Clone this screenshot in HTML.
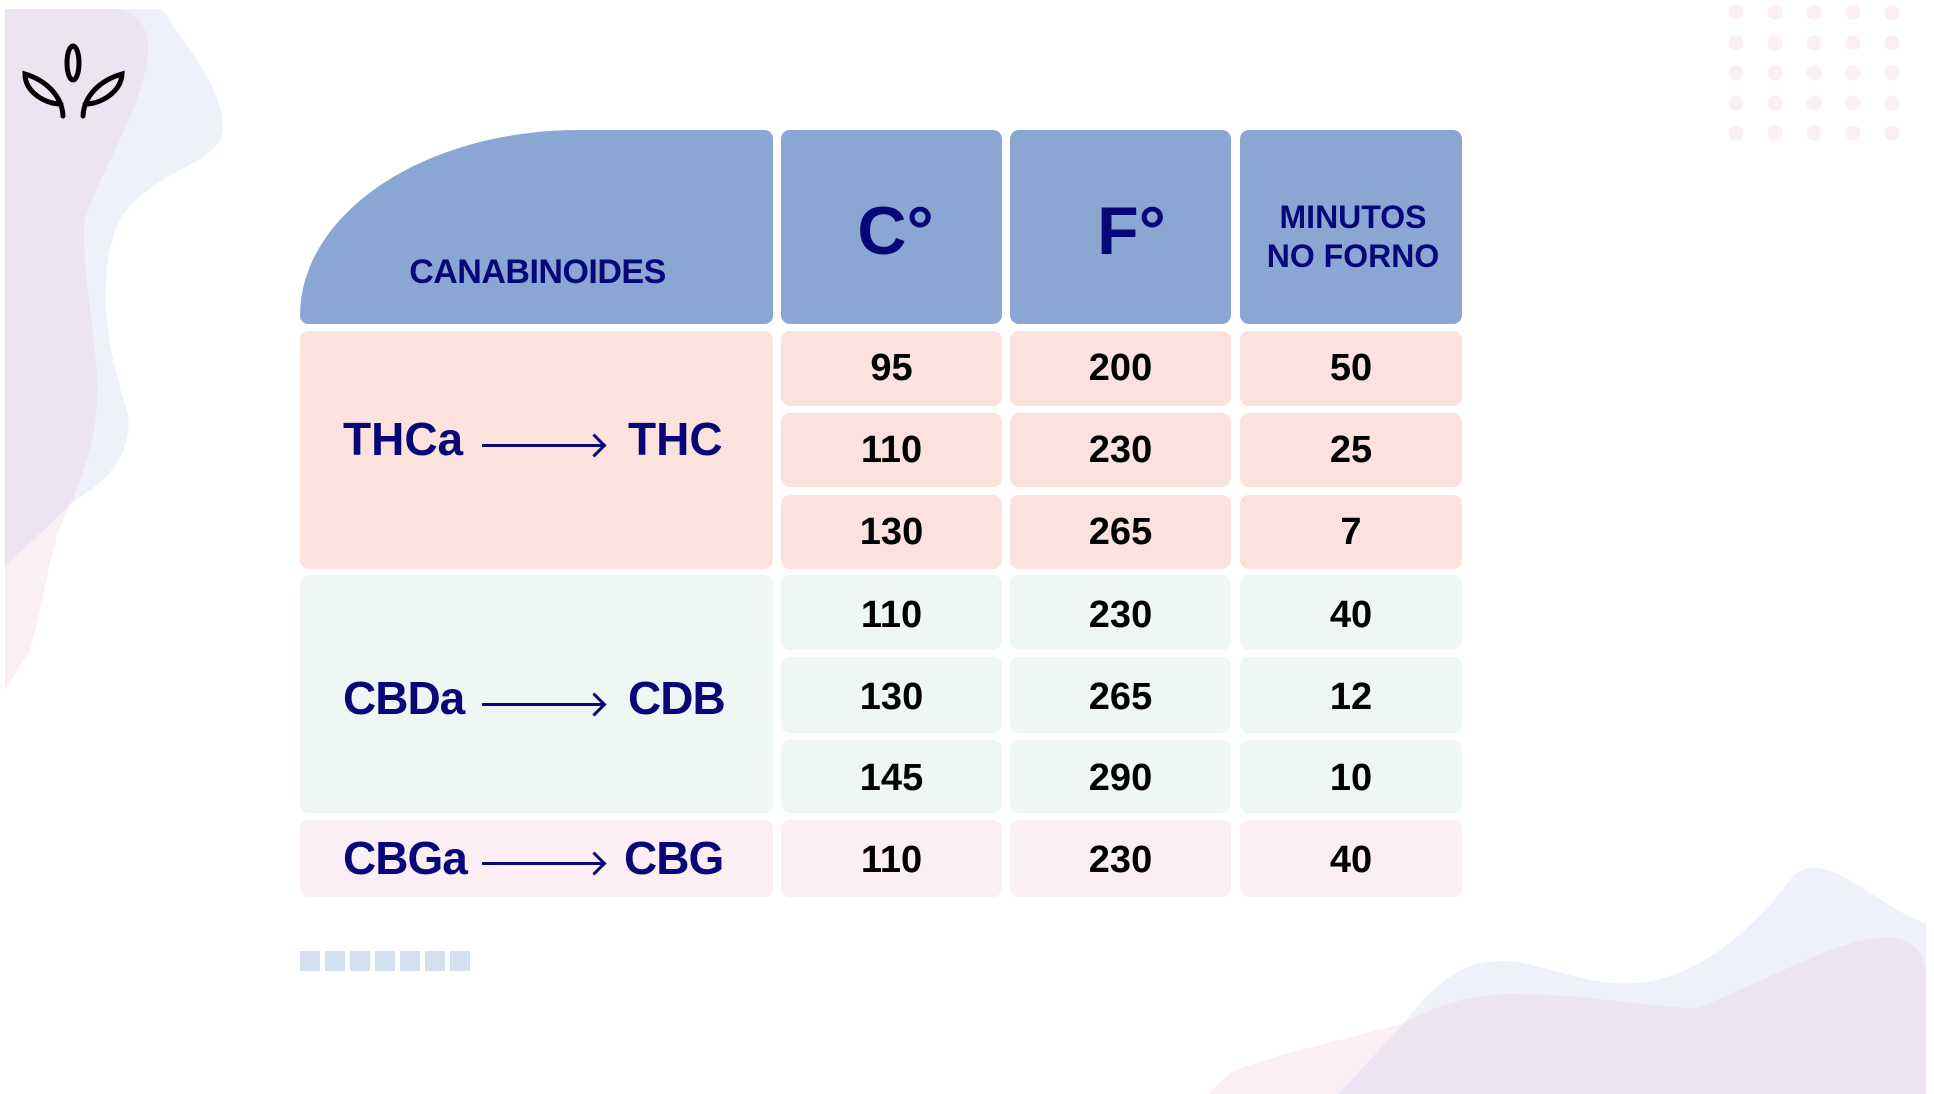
<!DOCTYPE html>
<html><head><meta charset="utf-8"><style>
html,body{margin:0;padding:0;background:#fff;}
body{width:1934px;height:1094px;position:relative;overflow:hidden;font-family:"Liberation Sans",sans-serif;}
svg.bg{position:absolute;left:0;top:0;}
.c{position:absolute;display:flex;align-items:center;justify-content:center;font-weight:bold;border-radius:9px;box-sizing:border-box;}
.h{background:#8aa7d4;color:#07077a;}
.p{background:#fbe2dc;}
.g{background:#eff7f4;}
.k{background:#fbeef4;}
.n{font-size:38px;color:#000;}
.lab{position:absolute;font-weight:bold;color:#07077a;font-size:46px;white-space:nowrap;}
.arr{position:absolute;height:3px;background:#07077a;}
.arr:after{content:"";position:absolute;width:14px;height:14px;border-top:3px solid #07077a;border-right:3px solid #07077a;transform:rotate(45deg);right:2px;top:-7px;}
</style></head><body>
<svg class="bg" width="1934" height="1094" viewBox="0 0 1934 1094">
<path d="M5,9 L162,9 C185,45 225,90 223,130 C220,165 150,170 120,220 C100,260 100,330 127,410 C135,450 110,480 75,500 L5,567 Z" fill="#eef1f9"/>
<path d="M5,9 L117,9 C150,15 155,45 140,90 C120,150 85,200 84,230 C85,300 100,360 97,400 C95,450 80,480 70,505 L5,567 Z" fill="#ece4f0"/>
<path d="M70,505 C50,540 45,600 30,650 L5,690 L5,567 Z" fill="#fbeff5"/>
<path d="M1209,1094 C1220,1080 1235,1068 1247,1066 C1290,1052 1320,1045 1340,1040 L1404,1023 L1340,1094 Z" fill="#fbeff5"/>
<path d="M1337,1094 L1404,1023 C1440,975 1470,961 1501,961 C1540,961 1580,985 1628,983 C1700,983 1760,920 1790,880 C1820,840 1880,910 1926,923 L1926,1094 Z" fill="#eef1f9"/>
<path d="M1339,1094 L1404,1023 C1440,1003 1480,993 1515,994 C1600,995 1650,1008 1697,1008 C1760,985 1840,935 1893,937 C1915,940 1926,960 1926,970 L1926,1094 Z" fill="#ece4f0"/>
<g fill="#fbeef4">
<circle cx="1736" cy="12.5" r="7.5"/><circle cx="1775" cy="12.5" r="7.5"/><circle cx="1814" cy="12.5" r="7.5"/><circle cx="1853" cy="12.5" r="7.5"/><circle cx="1892" cy="12.5" r="7.5"/>
<circle cx="1736" cy="43" r="7.5"/><circle cx="1775" cy="43" r="7.5"/><circle cx="1814" cy="43" r="7.5"/><circle cx="1853" cy="43" r="7.5"/><circle cx="1892" cy="43" r="7.5"/>
<circle cx="1736" cy="73" r="7.5"/><circle cx="1775" cy="73" r="7.5"/><circle cx="1814" cy="73" r="7.5"/><circle cx="1853" cy="73" r="7.5"/><circle cx="1892" cy="73" r="7.5"/>
<circle cx="1736" cy="103" r="7.5"/><circle cx="1775" cy="103" r="7.5"/><circle cx="1814" cy="103" r="7.5"/><circle cx="1853" cy="103" r="7.5"/><circle cx="1892" cy="103" r="7.5"/>
<circle cx="1736" cy="133" r="7.5"/><circle cx="1775" cy="133" r="7.5"/><circle cx="1814" cy="133" r="7.5"/><circle cx="1853" cy="133" r="7.5"/><circle cx="1892" cy="133" r="7.5"/>
</g>
<g fill="none" stroke="#000" stroke-width="5" stroke-linecap="round">
<ellipse cx="73" cy="63" rx="6" ry="17"/>
<path d="M63,116 C62,95 45,80 25,74 C25,92 45,104 61,104"/>
<path d="M83,116 C84,95 101,80 122,74 C121,92 101,104 85,104"/>
</g>
<g fill="#d3deee">
<rect x="300" y="951" width="20" height="20"/><rect x="325" y="951" width="20" height="20"/><rect x="350" y="951" width="20" height="20"/><rect x="375" y="951" width="20" height="20"/><rect x="400" y="951" width="20" height="20"/><rect x="425" y="951" width="20" height="20"/><rect x="450" y="951" width="20" height="20"/>
</g>
</svg>

<div class="c h" style="left:300px;top:130px;width:473px;height:194px;border-radius:300px 9px 9px 9px / 200px 9px 9px 9px;align-items:flex-end;padding-bottom:32px;padding-left:2px;font-size:34px;letter-spacing:-0.5px;">CANABINOIDES</div>
<div class="c h" style="left:781px;top:130px;width:221px;height:194px;font-size:68px;padding-top:8px;padding-left:8px;">C°</div>
<div class="c h" style="left:1010px;top:130px;width:221px;height:194px;font-size:68px;padding-top:8px;padding-left:22px;">F°</div>
<div class="c h" style="left:1240px;top:130px;width:222px;height:194px;font-size:32px;line-height:39px;text-align:center;padding-left:4px;padding-top:20px;">MINUTOS<br>NO FORNO</div>

<div class="c p" style="left:300px;top:331px;width:473px;height:238px;"></div>
<div class="c g" style="left:300px;top:575px;width:473px;height:238px;"></div>
<div class="c k" style="left:300px;top:820px;width:473px;height:77px;"></div>

<div class="lab" style="left:343px;top:412px;">THCa</div><div class="arr" style="left:482px;top:444px;width:123px;"></div><div class="lab" style="left:628px;top:412px;">THC</div>
<div class="lab" style="left:343px;top:671px;letter-spacing:-1px;">CBDa</div><div class="arr" style="left:482px;top:703px;width:123px;"></div><div class="lab" style="left:628px;top:671px;letter-spacing:-1px;">CDB</div>
<div class="lab" style="left:343px;top:831px;letter-spacing:-1px;">CBGa</div><div class="arr" style="left:482px;top:862px;width:123px;"></div><div class="lab" style="left:624px;top:831px;letter-spacing:-1px;">CBG</div>

<div class="c p n" style="left:781px;top:331px;width:221px;height:75px;">95</div>
<div class="c p n" style="left:1010px;top:331px;width:221px;height:75px;">200</div>
<div class="c p n" style="left:1240px;top:331px;width:222px;height:75px;">50</div>
<div class="c p n" style="left:781px;top:413px;width:221px;height:74px;">110</div>
<div class="c p n" style="left:1010px;top:413px;width:221px;height:74px;">230</div>
<div class="c p n" style="left:1240px;top:413px;width:222px;height:74px;">25</div>
<div class="c p n" style="left:781px;top:495px;width:221px;height:74px;">130</div>
<div class="c p n" style="left:1010px;top:495px;width:221px;height:74px;">265</div>
<div class="c p n" style="left:1240px;top:495px;width:222px;height:74px;">7</div>

<div class="c g n" style="left:781px;top:575px;width:221px;height:75px;padding-top:6px;">110</div>
<div class="c g n" style="left:1010px;top:575px;width:221px;height:75px;padding-top:6px;">230</div>
<div class="c g n" style="left:1240px;top:575px;width:222px;height:75px;padding-top:6px;">40</div>
<div class="c g n" style="left:781px;top:657px;width:221px;height:76px;padding-top:4px;">130</div>
<div class="c g n" style="left:1010px;top:657px;width:221px;height:76px;padding-top:4px;">265</div>
<div class="c g n" style="left:1240px;top:657px;width:222px;height:76px;padding-top:4px;">12</div>
<div class="c g n" style="left:781px;top:740px;width:221px;height:73px;padding-top:4px;">145</div>
<div class="c g n" style="left:1010px;top:740px;width:221px;height:73px;padding-top:4px;">290</div>
<div class="c g n" style="left:1240px;top:740px;width:222px;height:73px;padding-top:4px;">10</div>

<div class="c k n" style="left:781px;top:820px;width:221px;height:77px;padding-top:4px;">110</div>
<div class="c k n" style="left:1010px;top:820px;width:221px;height:77px;padding-top:4px;">230</div>
<div class="c k n" style="left:1240px;top:820px;width:222px;height:77px;padding-top:4px;">40</div>
</body></html>
